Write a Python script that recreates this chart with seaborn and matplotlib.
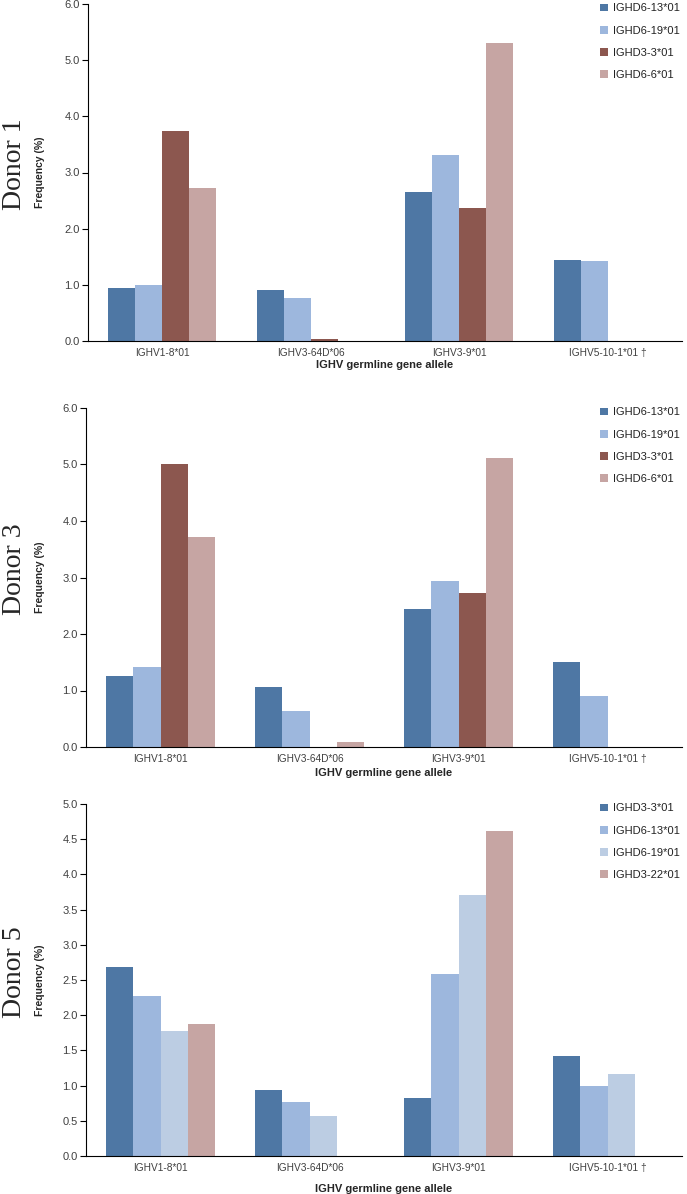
import numpy as np
import pandas as pd
import seaborn as sns
import matplotlib.pyplot as plt

sns.set_style("white")
plt.rcParams['font.family'] = ['Liberation Sans', 'DejaVu Sans']

alleles = ["IGHV1-8*01", "IGHV3-64D*06", "IGHV3-9*01", "IGHV5-10-1*01 \u2020"]

# donor 1
d1_genes = ["IGHD6-13*01", "IGHD6-19*01", "IGHD3-3*01", "IGHD6-6*01"]
d1_vals = {
    "IGHD6-13*01": [0.95, 0.90, 2.65, 1.45],
    "IGHD6-19*01": [1.00, 0.77, 3.31, 1.42],
    "IGHD3-3*01": [3.73, 0.03, 2.36, 0.0],
    "IGHD6-6*01": [2.72, 0.0, 5.30, 0.0],
}
# donor 3
d3_genes = ["IGHD6-13*01", "IGHD6-19*01", "IGHD3-3*01", "IGHD6-6*01"]
d3_vals = {
    "IGHD6-13*01": [1.25, 1.06, 2.45, 1.51],
    "IGHD6-19*01": [1.42, 0.63, 2.94, 0.91],
    "IGHD3-3*01": [5.01, 0.0, 2.73, 0.0],
    "IGHD6-6*01": [3.71, 0.08, 5.12, 0.0],
}
# donor 5
d5_genes = ["IGHD3-3*01", "IGHD6-13*01", "IGHD6-19*01", "IGHD3-22*01"]
d5_vals = {
    "IGHD3-3*01": [2.68, 0.94, 0.83, 1.42],
    "IGHD6-13*01": [2.27, 0.77, 2.58, 1.00],
    "IGHD6-19*01": [1.78, 0.57, 3.71, 1.17],
    "IGHD3-22*01": [1.88, 0.0, 4.61, 0.0],
}

pal_a = ["#4E77A4", "#9DB7DD", "#8C574F", "#C6A5A3"]
pal_b = ["#4E77A4", "#9DB7DD", "#BCCDE3", "#C6A5A3"]

W, H = 687, 1194
fig = plt.figure(figsize=(W / 100, H / 100), dpi=100)

# name, genes, values, palette, axis left px, top px, bottom px, ymax, step, xlabel y px
panels = [
    ("Donor 1", d1_genes, d1_vals, pal_a, 88, 4, 341, 6.0, 1.0, 360),
    ("Donor 3", d3_genes, d3_vals, pal_a, 86, 408, 747, 6.0, 1.0, 768),
    ("Donor 5", d5_genes, d5_vals, pal_b, 86, 804, 1156, 5.0, 0.5, 1184),
]

tick_col = "#404040"
for name, genes, vals, pal, left, top, bottom, ymax, step, xl_y in panels:
    ax = fig.add_axes([left / W, (H - bottom) / H, (682 - left) / W, (bottom - top) / H])
    df = pd.DataFrame([(a, g, vals[g][i]) for g in genes for i, a in enumerate(alleles)],
                      columns=["allele", "gene", "freq"])
    sns.barplot(data=df, x="allele", y="freq", hue="gene", hue_order=genes, order=alleles,
                palette=pal, saturation=1, width=0.73, errorbar=None, linewidth=0, ax=ax)
    ax.set_xlim(-0.5, 3.5)
    ax.set_ylim(0, ymax)
    ticks = np.arange(0, ymax + step / 2, step)
    ax.set_yticks(ticks)
    ax.set_yticklabels([f"{t:.1f}" for t in ticks], fontsize=8, color=tick_col)
    ax.set_xticks(range(4))
    ax.set_xticklabels(alleles, fontsize=7.3, color=tick_col)
    ax.set_xticks(np.arange(-0.5, 4, 1), minor=True)
    ax.tick_params(axis="x", which="major", length=0, pad=5)
    ax.tick_params(axis="x", which="minor", length=4, width=0.8, color="black", direction="out")
    ax.tick_params(axis="y", length=4, width=0.8, color="black", direction="out", pad=2, left=True)
    sns.despine(ax=ax)
    for s in ["left", "bottom"]:
        ax.spines[s].set_color("black")
        ax.spines[s].set_linewidth(0.8)
    ax.set_ylabel("Frequency (%)", fontsize=7.5, fontweight="bold")
    ax.yaxis.set_label_coords((45 - left) / (682 - left), 0.5)
    ax.set_xlabel("IGHV germline gene allele", fontsize=8, fontweight="bold")
    ax.xaxis.set_label_coords(0.5, (bottom - xl_y) / (bottom - top))
    leg = ax.legend(loc="upper left", frameon=False, fontsize=8, handlelength=0.7,
                    handleheight=0.7, handletextpad=0.4, labelspacing=1.1, borderaxespad=0)
    leg.set_bbox_to_anchor((596 / W, (H - top + 5) / H), transform=fig.transFigure)
    for t in leg.get_texts():
        t.set_color("#222222")
    fig.text(15 / W, (H - (top + bottom) / 2 + 8) / H, name, rotation=90, va="center",
             ha="center", fontsize=20, family="Liberation Serif")

fig.savefig("out.png", dpi=100)
